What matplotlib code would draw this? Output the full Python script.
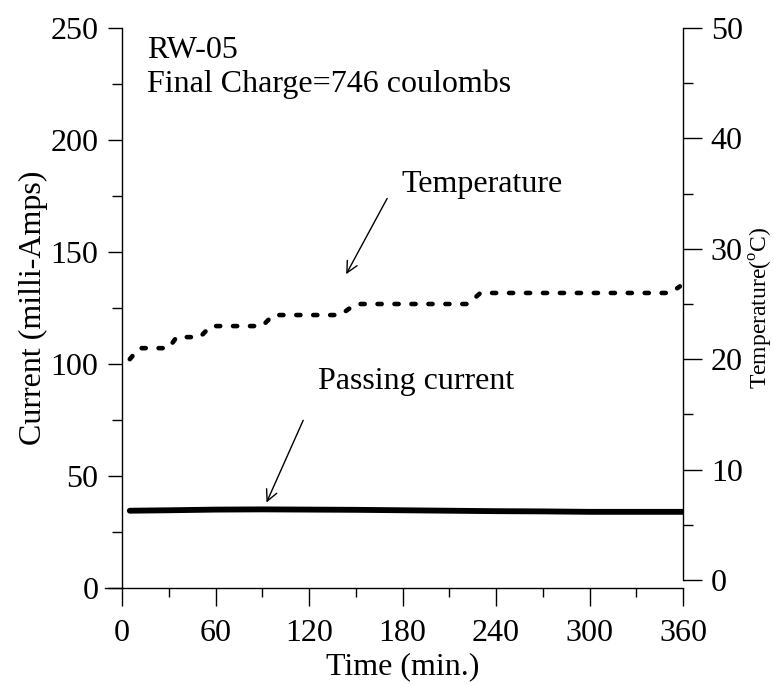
import matplotlib
matplotlib.use("Agg")
import matplotlib.pyplot as plt
from matplotlib.ticker import MultipleLocator

plt.rcParams['font.family'] = ['Liberation Serif', 'DejaVu Serif']
plt.rcParams['mathtext.fontset'] = 'custom'
plt.rcParams['mathtext.rm'] = 'Liberation Serif'

# passing current (mA) vs time (min)
cur_time = [5, 30, 60, 90, 120, 150, 180, 210, 240, 270, 300, 330, 360]
cur_ma = [34.5, 34.7, 35.0, 35.1, 35.0, 34.9, 34.7, 34.5, 34.3, 34.2, 34.0, 34.0, 34.0]

# temperature (C) vs time (min), stepwise readings
temp_time = [5, 11, 30, 35, 50, 57, 90, 97, 140, 150, 222, 230, 352, 358]
temp_c = [20.0, 21.0, 21.0, 22.0, 22.0, 23.0, 23.0, 24.0, 24.0, 25.0, 25.0, 26.0, 26.0, 26.6]

fig = plt.figure(figsize=(7.74, 6.85), dpi=100)
ax = fig.add_axes([122/774, 1-588/685, (683-122)/774, (588-28)/685])
ax2 = ax.twinx()

ax.plot(cur_time, cur_ma, color='black', lw=4.2, solid_capstyle='round')
ax2.plot(temp_time, temp_c, color='black', lw=3.3, linestyle=(0, (0.9, 2.8)),
         dash_capstyle='round')

ax.set_xlim(0, 360)
ax.set_ylim(0, 250)
ax2.set_ylim(-8/11.04, 50)

ax.xaxis.set_major_locator(MultipleLocator(60))
ax.xaxis.set_minor_locator(MultipleLocator(30))
ax.yaxis.set_major_locator(MultipleLocator(50))
ax.yaxis.set_minor_locator(MultipleLocator(25))
ax2.yaxis.set_major_locator(MultipleLocator(10))
ax2.yaxis.set_minor_locator(MultipleLocator(5))

ax.spines['top'].set_visible(False)
ax.spines['right'].set_visible(False)
ax2.spines['top'].set_visible(False)
ax2.spines['left'].set_visible(False)
ax2.spines['bottom'].set_visible(False)
ax2.spines['right'].set_bounds(0, 50)
for s in ['left', 'bottom']:
    ax.spines[s].set_linewidth(1.0)
ax2.spines['right'].set_linewidth(1.0)

# bottom axis line runs a little past the left axis
ax.plot([-0.03, 0], [0, 0], transform=ax.transAxes, color='black', lw=1.0, clip_on=False)

ax.tick_params(axis='x', which='major', direction='out', length=13, width=1.0,
               labelsize=23, pad=9)
ax.tick_params(axis='x', which='minor', direction='out', length=6.5, width=1.0)
ax.tick_params(axis='y', which='major', direction='out', length=10, width=1.0,
               labelsize=23, pad=7)
ax.tick_params(axis='y', which='minor', direction='out', length=7, width=1.0)
ax2.tick_params(axis='y', which='major', direction='out', length=14, width=1.0,
                labelsize=23, pad=6)
ax2.tick_params(axis='y', which='minor', direction='out', length=7, width=1.0)

ax.set_xlabel('Time (min.)', fontsize=23, labelpad=3)
ax.set_ylabel('Current (milli-Amps)', fontsize=23, labelpad=2)
ax2.set_ylabel(r'Temperature($^{\rm o}$C)', fontsize=17, labelpad=4)

ax.text(0.045, 0.946, 'RW-05', transform=ax.transAxes, fontsize=23, va='baseline')
ax.text(0.045, 0.886, 'Final Charge=746 coulombs', transform=ax.transAxes,
        fontsize=23, va='baseline')

ax.annotate('', xy=(143, 139), xytext=(171, 175),
            arrowprops=dict(arrowstyle='->', color='black', lw=1.0,
                            mutation_scale=20))
ax.text(231, 180, 'Temperature', fontsize=23, ha='center', va='center')

ax.annotate('', xy=(92, 37), xytext=(117, 76),
            arrowprops=dict(arrowstyle='->', color='black', lw=1.0,
                            mutation_scale=20))
ax.text(189, 92, 'Passing current', fontsize=23, ha='center', va='center')

fig.savefig('out.png', dpi=100)
